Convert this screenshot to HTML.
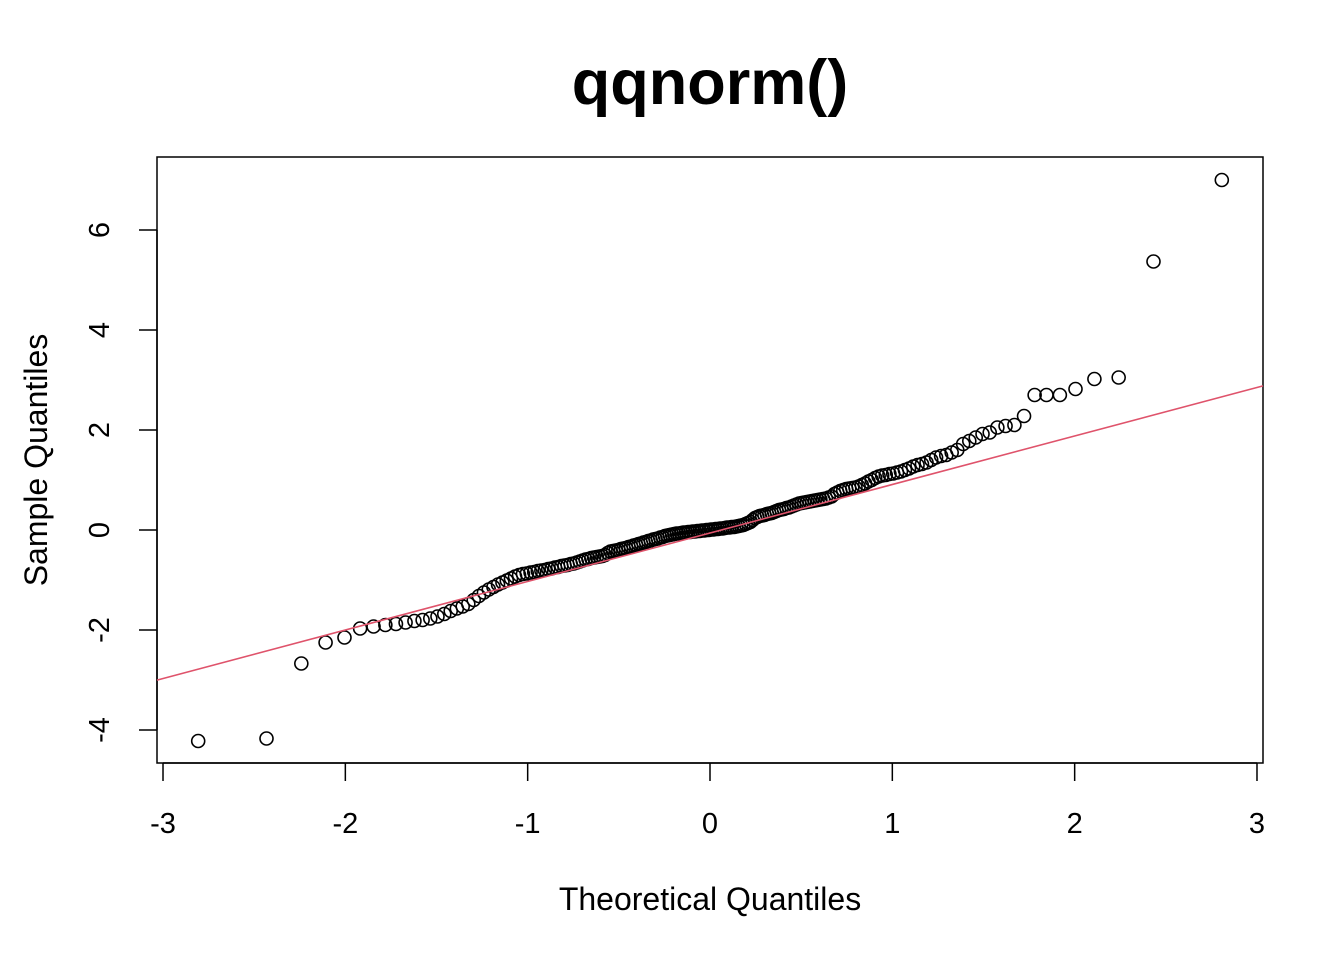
<!DOCTYPE html>
<html><head><meta charset="utf-8"><style>
html,body{margin:0;padding:0;background:#fff}
svg text{font-family:"Liberation Sans",Arial,sans-serif}
</style></head><body>
<svg id="chart" width="1344" height="960" xmlns="http://www.w3.org/2000/svg">
<rect width="1344" height="960" fill="#fff"/>
<text x="710" y="104" font-size="63" font-weight="bold" text-anchor="middle">qqnorm()</text>
<rect x="157" y="157" width="1106" height="606" fill="none" stroke="#000" stroke-width="1.5"/>
<g id="xaxis"></g>
<g id="yaxis"></g>
<text x="710" y="910" font-size="32" text-anchor="middle">Theoretical Quantiles</text>
<text transform="translate(47,460) rotate(-90)" font-size="32" text-anchor="middle">Sample Quantiles</text>
<g id="points"></g>
<g id="line"></g>
</svg>
<script>
const xTicks=[-3,-2,-1,0,1,2,3];
const yTicks=[-4,-2,0,2,4,6];
const sampleValues=[
-4.22,-4.17,-2.67,-2.25,-2.15,-1.97,-1.93,-1.90,-1.88,-1.85,
-1.82,-1.80,-1.77,-1.73,-1.68,-1.62,-1.57,-1.53,-1.48,-1.40,
-1.32,-1.25,-1.19,-1.14,-1.09,-1.05,-1.01,-0.97,-0.93,-0.90,
-0.88,-0.87,-0.85,-0.84,-0.82,-0.81,-0.80,-0.78,-0.77,-0.75,
-0.74,-0.72,-0.71,-0.70,-0.68,-0.67,-0.65,-0.63,-0.61,-0.59,
-0.58,-0.56,-0.55,-0.54,-0.53,-0.52,-0.50,-0.46,-0.43,-0.42,
-0.41,-0.40,-0.38,-0.37,-0.36,-0.34,-0.33,-0.31,-0.30,-0.28,
-0.27,-0.25,-0.24,-0.22,-0.21,-0.19,-0.18,-0.17,-0.15,-0.14,
-0.12,-0.11,-0.10,-0.09,-0.08,-0.07,-0.07,-0.06,-0.05,-0.05,
-0.04,-0.04,-0.03,-0.03,-0.02,-0.02,-0.01,-0.01,0.00,0.00,
0.01,0.01,0.02,0.02,0.03,0.03,0.04,0.05,0.05,0.06,
0.06,0.07,0.08,0.09,0.10,0.12,0.14,0.16,0.20,0.24,
0.26,0.28,0.29,0.30,0.32,0.33,0.34,0.36,0.38,0.40,
0.41,0.42,0.44,0.45,0.47,0.49,0.51,0.53,0.54,0.55,
0.56,0.57,0.58,0.59,0.60,0.61,0.62,0.63,0.65,0.67,
0.72,0.75,0.78,0.80,0.82,0.83,0.84,0.85,0.87,0.90,
0.93,0.97,1.00,1.04,1.07,1.09,1.10,1.12,1.13,1.15,
1.17,1.20,1.23,1.27,1.30,1.32,1.35,1.40,1.45,1.48,
1.50,1.55,1.60,1.72,1.78,1.85,1.92,1.95,2.05,2.08,
2.10,2.28,2.70,2.70,2.70,2.82,3.02,3.05,5.37,7.00];
const lineIntercept=-0.06;
const lineSlope=0.97;

const NS="http://www.w3.org/2000/svg";
const sx=v=>710+v*182.33;
const sy=v=>530-v*50;
function qnorm(p){
 const a=[-39.69683028665376,220.9460984245205,-275.9285104469687,138.357751867269,-30.66479806614716,2.506628277459239];
 const b=[-54.47609879822406,161.5858368580409,-155.6989798598866,66.80131188771972,-13.28068155288572];
 const c=[-0.007784894002430293,-0.3223964580411365,-2.400758277161838,-2.549732539343734,4.374664141464968,2.938163982698783];
 const d=[0.007784695709041462,0.3224671290700398,2.445134137142996,3.754408661907416];
 let q,r;
 if(p<0.02425){q=Math.sqrt(-2*Math.log(p));return (((((c[0]*q+c[1])*q+c[2])*q+c[3])*q+c[4])*q+c[5])/((((d[0]*q+d[1])*q+d[2])*q+d[3])*q+1);}
 if(p>1-0.02425){q=Math.sqrt(-2*Math.log(1-p));return -(((((c[0]*q+c[1])*q+c[2])*q+c[3])*q+c[4])*q+c[5])/((((d[0]*q+d[1])*q+d[2])*q+d[3])*q+1);}
 q=p-0.5;r=q*q;
 return (((((a[0]*r+a[1])*r+a[2])*r+a[3])*r+a[4])*r+a[5])*q/(((((b[0]*r+b[1])*r+b[2])*r+b[3])*r+b[4])*r+1);
}
function mk(tag,attrs,parent){const e=document.createElementNS(NS,tag);for(const k in attrs)e.setAttribute(k,attrs[k]);parent.appendChild(e);return e;}

const xg=document.getElementById('xaxis');
mk('line',{x1:sx(xTicks[0]),x2:sx(xTicks[xTicks.length-1]),y1:763,y2:763,stroke:'#000','stroke-width':1.5},xg);
xTicks.forEach(t=>{
 const l=mk('line',{x1:sx(t),x2:sx(t),y1:763,y2:781,stroke:'#000','stroke-width':1.5},xg);
 
 
 const tx=mk('text',{x:sx(t),y:833,'font-size':29,'text-anchor':'middle'},xg);
 tx.textContent=t;
 
 
});
const yg=document.getElementById('yaxis');
mk('line',{x1:157,x2:157,y1:sy(yTicks[0]),y2:sy(yTicks[yTicks.length-1]),stroke:'#000','stroke-width':1.5},yg);
yTicks.forEach(t=>{
 const l=mk('line',{x1:139,x2:157,y1:sy(t),y2:sy(t),stroke:'#000','stroke-width':1.5},yg);
 
 
 const tx=mk('text',{transform:`translate(109,${sy(t)}) rotate(-90)`,'font-size':29,'text-anchor':'middle'},yg);
 tx.textContent=t;
 
 
});
const pg=document.getElementById('points');
const n=sampleValues.length;
sampleValues.forEach((v,i)=>{
 const th=qnorm((i+1-0.5)/n);
 const c=mk('circle',{cx:sx(th),cy:sy(v),r:6.5,fill:'none',stroke:'#000','stroke-width':1.6},pg);
 
 
});
const lg=document.getElementById('line');
const xa=(157-710)/182.33, xb=(1263-710)/182.33;
const ln=mk('line',{x1:157,x2:1263,y1:sy(lineIntercept+lineSlope*xa),y2:sy(lineIntercept+lineSlope*xb),stroke:'#DF536B','stroke-width':1.6},lg);


</script>
</body></html>
